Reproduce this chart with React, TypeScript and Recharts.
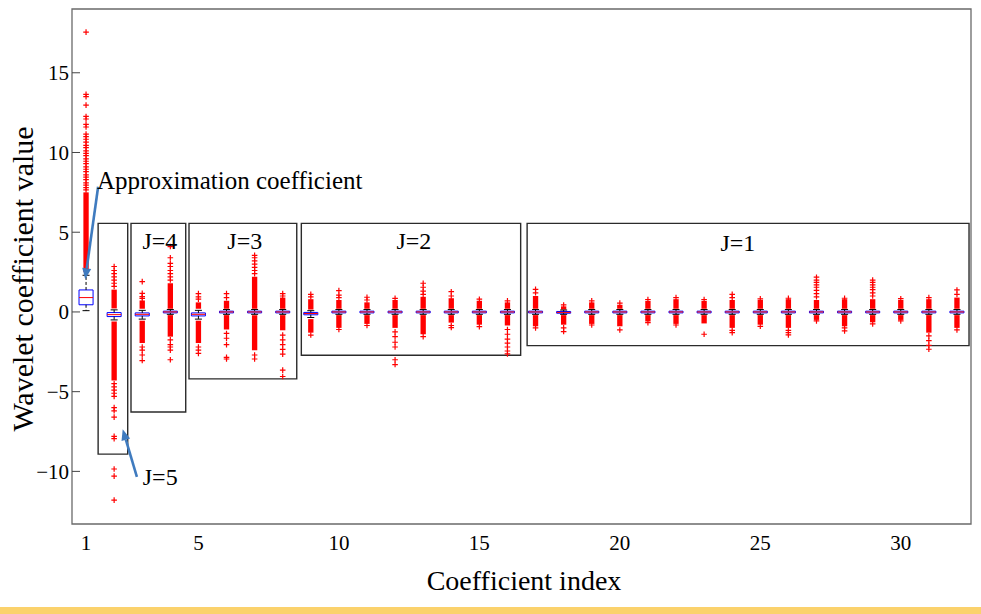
import React from 'react';
import {
  ComposedChart,
  XAxis,
  YAxis,
  Scatter,
  ReferenceArea,
  ReferenceLine,
  ReferenceDot,
} from 'recharts';

const FONT = "'Liberation Serif', 'Times New Roman', Times, serif";

// ---------------- data ----------------
const INDICES = [
  1, 2, 3, 4, 5, 6, 7, 8, 9, 10, 11, 12, 13, 14, 15, 16,
  17, 18, 19, 20, 21, 22, 23, 24, 25, 26, 27, 28, 29, 30, 31, 32,
];
const X_TICKS = [1, 5, 10, 15, 20, 25, 30];
const Y_TICKS = [-10, -5, 0, 5, 10, 15];

const MEDIAN = [
  0.9, -0.17, -0.15, 0, -0.15, 0, 0, 0, -0.1, 0, 0, 0, 0, 0, 0, 0,
  0, -0.03, 0, 0, 0, 0, 0, 0, 0, 0, 0, 0, 0, 0, 0, 0,
];
const Q1 = [
  0.45, -0.29, -0.25, -0.06, -0.25, -0.06, -0.06, -0.06, -0.18, -0.06, -0.06, -0.06, -0.06, -0.06, -0.06, -0.06,
  -0.06, -0.08, -0.06, -0.06, -0.06, -0.06, -0.06, -0.06, -0.06, -0.06, -0.06, -0.06, -0.06, -0.06, -0.06, -0.06,
];
const Q3 = [
  1.38, -0.04, -0.06, 0.05, -0.06, 0.05, 0.05, 0.05, -0.03, 0.05, 0.05, 0.05, 0.05, 0.05, 0.05, 0.05,
  0.05, 0.03, 0.05, 0.05, 0.05, 0.05, 0.05, 0.05, 0.05, 0.05, 0.05, 0.05, 0.05, 0.05, 0.05, 0.05,
];
const WHISKER_LOW = [
  0.08, -0.5, -0.45, -0.15, -0.45, -0.15, -0.15, -0.15, -0.35, -0.15, -0.15, -0.15, -0.15, -0.15, -0.15, -0.15,
  -0.15, -0.15, -0.15, -0.15, -0.15, -0.15, -0.15, -0.15, -0.15, -0.15, -0.15, -0.15, -0.15, -0.15, -0.15, -0.15,
];
const WHISKER_HIGH = [
  2.3, 0.13, 0.1, 0.15, 0.1, 0.15, 0.15, 0.15, 0.08, 0.15, 0.15, 0.15, 0.15, 0.15, 0.15, 0.15,
  0.15, 0.12, 0.15, 0.15, 0.15, 0.15, 0.15, 0.15, 0.15, 0.15, 0.15, 0.15, 0.15, 0.15, 0.15, 0.15,
];

// densely packed outlier runs (drawn as solid streaks of '+')
const UPPER_DENSE_FROM = [
  2.5, 0.22, 0.2, 0.2, 0.2, 0.2, 0.2, 0.2, 0.15, 0.2, 0.2, 0.2, 0.2, 0.2, 0.2, 0.2,
  0.2, 0.15, 0.2, 0.2, 0.2, 0.2, 0.2, 0.2, 0.2, 0.2, 0.2, 0.2, 0.2, 0.2, 0.2, 0.2,
];
const UPPER_DENSE_TO = [
  7.5, 1.4, 0.72, 1.8, 0.6, 0.7, 2.2, 0.9, 0.8, 0.75, 0.6, 0.75, 0.95, 0.86, 0.7, 0.6,
  1.0, 0.35, 0.6, 0.45, 0.7, 0.8, 0.7, 0.75, 0.75, 0.8, 0.75, 0.8, 0.8, 0.75, 0.8, 0.9,
];
const LOWER_DENSE_FROM: (number | null)[] = [
  null, -0.6, -0.55, -0.2, -0.55, -0.2, -0.2, -0.2, -0.45, -0.2, -0.2, -0.2, -0.2, -0.2, -0.2, -0.2,
  -0.2, -0.2, -0.2, -0.2, -0.2, -0.2, -0.2, -0.2, -0.2, -0.2, -0.2, -0.2, -0.2, -0.2, -0.2, -0.2,
];
const LOWER_DENSE_TO: (number | null)[] = [
  null, -4.3, -1.95, -1.55, -1.95, -1.1, -2.4, -1.15, -1.3, -1.0, -0.75, -1.0, -1.4, -0.67, -0.8, -0.85,
  -0.9, -0.8, -0.75, -0.9, -0.6, -0.75, -0.72, -1.0, -0.8, -1.0, -0.5, -0.9, -0.65, -0.5, -1.3, -1.0,
];

// isolated outliers
const UPPER_OUTLIERS: number[][] = [
  [
    7.65, 7.8, 7.95, 8.1, 8.3, 8.45, 8.6, 8.8, 8.95, 9.1, 9.3, 9.45, 9.6, 9.8, 9.95,
    10.1, 10.3, 10.45, 10.65, 10.83, 11.0, 11.15, 11.6, 11.76, 12.1, 12.26, 12.97, 13.5, 13.65, 17.55,
  ],
  [1.6, 1.8, 2.0, 2.2, 2.4, 2.6, 2.85],
  [0.85, 0.96, 1.17, 1.9],
  [2.0, 2.2, 2.4, 2.6, 2.85, 3.05, 3.4, 4.1],
  [0.8, 0.95, 1.15],
  [0.9, 1.15],
  [2.4, 2.6, 2.8, 3.0, 3.2, 3.4, 3.55],
  [1.0, 1.15],
  [0.95, 1.1],
  [0.9, 1.05, 1.34],
  [0.75, 0.92],
  [0.85],
  [1.1, 1.3, 1.55, 1.8],
  [1.0, 1.27],
  [0.8],
  [0.7],
  [1.2, 1.42],
  [0.44],
  [0.7],
  [0.55],
  [0.78],
  [0.9],
  [0.78],
  [0.9, 1.1],
  [0.82],
  [0.86],
  [0.95, 1.15, 1.35, 1.55, 1.7, 1.85, 2.0, 2.18],
  [0.86],
  [1.0, 1.2, 1.4, 1.55, 1.7, 1.85, 2.0],
  [0.83],
  [0.9],
  [1.1, 1.38],
];
const LOWER_OUTLIERS: number[][] = [
  [],
  [-4.5, -4.7, -4.9, -5.1, -5.3, -6.0, -6.2, -6.6, -7.8, -7.95, -9.85, -10.3, -11.8],
  [-2.2, -2.4, -2.7, -3.05],
  [-1.75, -2.05, -2.2, -2.4, -3.0],
  [-2.2, -2.4, -2.6],
  [-1.35, -1.65, -2.05, -2.85, -2.95],
  [-2.7, -2.95],
  [-1.45, -1.75, -2.05, -2.35, -2.65, -3.65, -4.05],
  [-1.45],
  [-1.1],
  [-0.85],
  [-1.25, -1.55, -1.9, -2.2, -3.0, -3.3],
  [-1.55],
  [-0.85, -0.98],
  [-0.92],
  [-1.1, -1.4, -1.7, -1.95, -2.2, -2.45, -2.63],
  [-1.0],
  [-1.0, -1.23],
  [-0.82],
  [-1.13],
  [-0.67],
  [-0.82],
  [-1.4],
  [-1.15, -1.3],
  [-0.9],
  [-1.15, -1.3, -1.44],
  [-0.56],
  [-1.0, -1.19],
  [-0.75],
  [-0.56],
  [-1.5, -1.8, -2.1, -2.34],
  [-1.13],
];

// annotation group frames (data coordinates)
const GROUP_LABELS = ['J=5', 'J=4', 'J=3', 'J=2', 'J=1'];
const GROUP_X_FROM = [1.43, 2.6, 4.665, 8.663, 16.7];
const GROUP_X_TO = [2.483, 4.548, 8.5, 16.47, 32.43];
const GROUP_TOP = [5.556, 5.556, 5.556, 5.556, 5.556];
const GROUP_BOTTOM = [-8.92, -6.28, -4.2, -2.72, -2.11];
const GROUP_LABEL_X = [3.64, 3.63, 6.65, 12.67, 24.2];
const GROUP_LABEL_Y = [-10.85, 3.92, 3.92, 3.92, 3.85];

const X_DOMAIN: [number, number] = [0.5, 32.5];
const Y_DOMAIN: [number, number] = [-13.3, 19];

// ---------------- style constants ----------------
const BOX_HALF = 0.25;
const CAP_HALF = 0.125;
const STREAK_HALF = 0.095;
const RED = '#ff0000';
const BLUE = '#0000ff';
const ARROW = '#3f7bbf';

const outlierPoints: { x: number; y: number }[] = [];
INDICES.forEach((k, i) => {
  UPPER_OUTLIERS[i].forEach((v) => outlierPoints.push({ x: k, y: v }));
  LOWER_OUTLIERS[i].forEach((v) => outlierPoints.push({ x: k, y: v }));
});

const PlusShape = (props: any) => {
  const { cx, cy } = props;
  if (cx == null || cy == null) return null;
  return (
    <path
      d={`M${cx - 2.8},${cy}H${cx + 2.8}M${cx},${cy - 2.8}V${cy + 2.8}`}
      stroke={RED}
      strokeWidth={1.2}
      fill="none"
    />
  );
};

const ArrowShape = (props: any) => {
  const { x1, y1, x2, y2 } = props;
  const ang = Math.atan2(y2 - y1, x2 - x1);
  const L = 11;
  const W = 4.5;
  const bx = x2 - L * Math.cos(ang);
  const by = y2 - L * Math.sin(ang);
  const px = -Math.sin(ang) * W;
  const py = Math.cos(ang) * W;
  return (
    <g>
      <line x1={x1} y1={y1} x2={bx} y2={by} stroke={ARROW} strokeWidth={2.6} />
      <polygon
        points={`${x2},${y2} ${bx + px},${by + py} ${bx - px},${by - py}`}
        fill={ARROW}
      />
    </g>
  );
};

const makeText = (text: string, anchor: 'start' | 'middle', size: number) => (props: any) => {
  const { cx, cy } = props;
  return (
    <text x={cx} y={cy} textAnchor={anchor} fontFamily={FONT} fontSize={size} fill="#000">
      {text}
    </text>
  );
};

const minusFmt = (v: number) => (v < 0 ? `\u2212${Math.abs(v)}` : `${v}`);

export default function App() {
  const elements: React.ReactNode[] = [];

  // group frames
  GROUP_LABELS.forEach((lab, g) => {
    elements.push(
      <ReferenceArea
        key={`grp-${g}`}
        x1={GROUP_X_FROM[g]}
        x2={GROUP_X_TO[g]}
        y1={GROUP_BOTTOM[g]}
        y2={GROUP_TOP[g]}
        fill="none"
        fillOpacity={0}
        stroke="#2b2b2b"
        strokeWidth={1.4}
        ifOverflow="visible"
      />
    );
  });

  INDICES.forEach((k, i) => {
    // dense streaks
    elements.push(
      <ReferenceArea
        key={`ud-${i}`}
        x1={k - STREAK_HALF}
        x2={k + STREAK_HALF}
        y1={UPPER_DENSE_FROM[i]}
        y2={UPPER_DENSE_TO[i]}
        fill={RED}
        fillOpacity={1}
        stroke="none"
        ifOverflow="visible"
      />
    );
    const lf = LOWER_DENSE_FROM[i];
    const lt = LOWER_DENSE_TO[i];
    if (lf != null && lt != null) {
      elements.push(
        <ReferenceArea
          key={`ld-${i}`}
          x1={k - STREAK_HALF}
          x2={k + STREAK_HALF}
          y1={lt}
          y2={lf}
          fill={RED}
          fillOpacity={1}
          stroke="none"
          ifOverflow="visible"
        />
      );
    }
    // whiskers
    elements.push(
      <ReferenceLine
        key={`wu-${i}`}
        segment={[{ x: k, y: Q3[i] }, { x: k, y: WHISKER_HIGH[i] }]}
        stroke="#000"
        strokeWidth={1}
        strokeDasharray="3 2"
        ifOverflow="visible"
      />,
      <ReferenceLine
        key={`wl-${i}`}
        segment={[{ x: k, y: Q1[i] }, { x: k, y: WHISKER_LOW[i] }]}
        stroke="#000"
        strokeWidth={1}
        strokeDasharray="3 2"
        ifOverflow="visible"
      />,
      <ReferenceLine
        key={`cu-${i}`}
        segment={[{ x: k - CAP_HALF, y: WHISKER_HIGH[i] }, { x: k + CAP_HALF, y: WHISKER_HIGH[i] }]}
        stroke="#000"
        strokeWidth={1}
        ifOverflow="visible"
      />,
      <ReferenceLine
        key={`cl-${i}`}
        segment={[{ x: k - CAP_HALF, y: WHISKER_LOW[i] }, { x: k + CAP_HALF, y: WHISKER_LOW[i] }]}
        stroke="#000"
        strokeWidth={1}
        ifOverflow="visible"
      />
    );
    // box
    elements.push(
      <ReferenceArea
        key={`box-${i}`}
        x1={k - BOX_HALF}
        x2={k + BOX_HALF}
        y1={Q1[i]}
        y2={Q3[i]}
        fill="#ffffff"
        fillOpacity={1}
        stroke={BLUE}
        strokeWidth={1}
        ifOverflow="visible"
      />,
      <ReferenceLine
        key={`med-${i}`}
        segment={[{ x: k - BOX_HALF, y: MEDIAN[i] }, { x: k + BOX_HALF, y: MEDIAN[i] }]}
        stroke={RED}
        strokeWidth={1}
        ifOverflow="visible"
      />
    );
  });

  return (
    <div
      style={{
        position: 'fixed',
        left: 0,
        top: 0,
        width: 981,
        height: 614,
        background: '#ffffff',
        overflow: 'hidden',
      }}
    >
      <ComposedChart
        width={981}
        height={608}
        data={outlierPoints}
        margin={{ top: 9, right: 0, bottom: 0, left: 0 }}
      >
        <XAxis
          xAxisId={0}
          dataKey="x"
          type="number"
          domain={X_DOMAIN}
          allowDataOverflow
          ticks={X_TICKS}
          interval={0}
          height={84}
          axisLine={false}
          tickLine={false}
          tickSize={6}
          tickMargin={5}
          tick={{ fill: '#000', fontFamily: FONT, fontSize: 21 }}
          label={{
            content: (p: any) => {
              const vb = p.viewBox || { x: 72, y: 524, width: 899 };
              const cx = vb.x + vb.width / 2 + 2.5;
              return (
                <text x={cx} y={vb.y + 66} textAnchor="middle" fontFamily={FONT} fontSize={28} fill="#000">
                  Coefficient index
                </text>
              );
            },
          }}
        />
        <YAxis
          yAxisId={0}
          dataKey="y"
          type="number"
          domain={Y_DOMAIN}
          allowDataOverflow
          ticks={Y_TICKS}
          interval={0}
          width={72}
          axisLine={false}
          tickLine={{ stroke: '#444' }}
          tickSize={-8}
          tickMargin={11}
          tickFormatter={minusFmt}
          tick={{ fill: '#000', fontFamily: FONT, fontSize: 21 }}
          label={{
            content: (p: any) => {
              const vb = p.viewBox || { x: 0, y: 9, width: 72, height: 515 };
              const x = vb.x + 33;
              const y = vb.y + vb.height / 2 + 12.5;
              return (
                <text
                  x={x}
                  y={y}
                  transform={`rotate(-90 ${x} ${y})`}
                  textAnchor="middle"
                  fontFamily={FONT}
                  fontSize={30}
                  fill="#000"
                >
                  Wavelet coefficient value
                </text>
              );
            },
          }}
        />
        <YAxis
          yAxisId="right"
          orientation="right"
          type="number"
          domain={Y_DOMAIN}
          allowDataOverflow
          ticks={Y_TICKS}
          interval={0}
          width={10}
          axisLine={false}
          tickLine={{ stroke: '#444' }}
          tickSize={-8}
          tick={false}
        />

        {/* plot frame */}
        <ReferenceArea
          x1={X_DOMAIN[0]}
          x2={X_DOMAIN[1]}
          y1={Y_DOMAIN[0]}
          y2={Y_DOMAIN[1]}
          fill="none"
          fillOpacity={0}
          stroke="#6a6a6a"
          strokeWidth={1.3}
          ifOverflow="visible"
        />

        {elements}

        <Scatter
          data={outlierPoints}
          dataKey="y"
          shape={PlusShape}
          isAnimationActive={false}
        />

        {/* group labels */}
        {GROUP_LABELS.map((lab, g) => (
          <ReferenceDot
            key={`gl-${g}`}
            x={GROUP_LABEL_X[g]}
            y={GROUP_LABEL_Y[g]}
            r={0}
            shape={makeText(lab, 'middle', 24)}
            ifOverflow="visible"
          />
        ))}
        <ReferenceDot
          x={1.39}
          y={7.74}
          r={0}
          shape={makeText('Approximation coefficient', 'start', 25)}
          ifOverflow="visible"
        />

        {/* arrows */}
        <ReferenceLine
          segment={[{ x: 1.43, y: 7.85 }, { x: 0.97, y: 2.05 }]}
          shape={ArrowShape}
          ifOverflow="visible"
        />
        <ReferenceLine
          segment={[{ x: 2.81, y: -10.35 }, { x: 2.305, y: -7.35 }]}
          shape={ArrowShape}
          ifOverflow="visible"
        />
      </ComposedChart>
      <div
        style={{
          position: 'absolute',
          left: 0,
          top: 607,
          width: 981,
          height: 7,
          background: '#fbd26c',
        }}
      />
    </div>
  );
}
